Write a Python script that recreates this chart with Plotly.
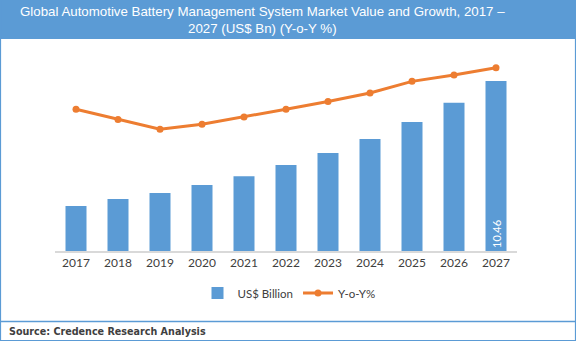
import plotly.graph_objects as go

# Market data
years = ["2017", "2018", "2019", "2020", "2021", "2022", "2023", "2024", "2025", "2026", "2027"]
market_value_bn = [2.77, 3.20, 3.57, 4.06, 4.60, 5.29, 6.03, 6.89, 7.94, 9.12, 10.46]
yoy_growth = [0.1453, 0.1350, 0.1248, 0.1300, 0.1374, 0.1454, 0.1534, 0.1620, 0.1740, 0.1805, 0.1880]
labelled_years = ["2027"]

W, H = 576, 341
ML, MR, MT, MB = 55, 59, 56, 90
PW, PH = W - ML - MR, H - MT - MB

BLUE = "#5B9BD5"
ORANGE = "#ED7D31"
TEXT = "#404040"


def px_x(x):
    return (x - ML) / PW


def px_y(y):
    return (H - MB - y) / PH


bar_text = [f"{v:.2f}" if yr in labelled_years else "" for yr, v in zip(years, market_value_bn)]

fig = go.Figure()
fig.add_trace(go.Bar(
    x=years, y=market_value_bn, name="US$ Billion",
    marker=dict(color=BLUE, line=dict(width=0)),
    text=bar_text, textposition="inside", textangle=-90,
    insidetextanchor="start",
    textfont=dict(family="Lato", size=11, color="white"),
    cliponaxis=False,
))
fig.add_trace(go.Scatter(
    x=years, y=yoy_growth, name="Y-o-Y%", yaxis="y2",
    mode="lines+markers",
    line=dict(color=ORANGE, width=3),
    marker=dict(color=ORANGE, size=7),
))

shapes = [
    # title band
    dict(type="rect", xref="paper", yref="paper",
         x0=px_x(0), x1=px_x(W), y0=px_y(39), y1=px_y(0),
         fillcolor=BLUE, line=dict(width=0), layer="below"),
    # outer frame
    dict(type="rect", xref="paper", yref="paper",
         x0=px_x(0.5), x1=px_x(W - 0.5), y0=px_y(H - 0.5), y1=px_y(0.5),
         line=dict(color=BLUE, width=1.2)),
    # source box divider
    dict(type="line", xref="paper", yref="paper",
         x0=px_x(0), x1=px_x(W), y0=px_y(321.5), y1=px_y(321.5),
         line=dict(color=BLUE, width=1.5)),
]

annotations = [
    dict(text="Global Automotive Battery Management System Market Value and Growth, 2017 –<br>2027 (US$ Bn) (Y-o-Y %)",
         xref="paper", yref="paper", x=px_x(262), y=px_y(20),
         xanchor="center", yanchor="middle", showarrow=False,
         font=dict(family="Liberation Sans", size=13.3, color="white")),
    dict(text="<b>Source: Credence Research Analysis</b>",
         xref="paper", yref="paper", x=px_x(7), y=px_y(331),
         xanchor="left", yanchor="middle", showarrow=False,
         font=dict(family="DejaVu Sans", size=9.6, color=TEXT)),
]

fig.update_layout(
    width=W, height=H,
    margin=dict(l=ML, r=MR, t=MT, b=MB, pad=0, autoexpand=False),
    paper_bgcolor="white", plot_bgcolor="white",
    bargap=0.5,
    showlegend=True,
    legend=dict(orientation="h", x=px_x(289), xanchor="center",
                y=px_y(293), yanchor="middle",
                font=dict(family="Lato", size=11.5, color=TEXT),
                itemwidth=30, tracegroupgap=0),
    xaxis=dict(showgrid=False, zeroline=False, showline=True,
               range=[-0.5, len(years) - 0.5],
               linecolor="#D9D9D9", linewidth=1.5, ticks="",
               tickfont=dict(family="Lato", size=12, color=TEXT)),
    yaxis=dict(range=[0, 12], visible=False, showgrid=False),
    yaxis2=dict(range=[0, 0.2], overlaying="y", visible=False, showgrid=False),
    shapes=shapes,
    annotations=annotations,
)

fig.write_html("out.html")
